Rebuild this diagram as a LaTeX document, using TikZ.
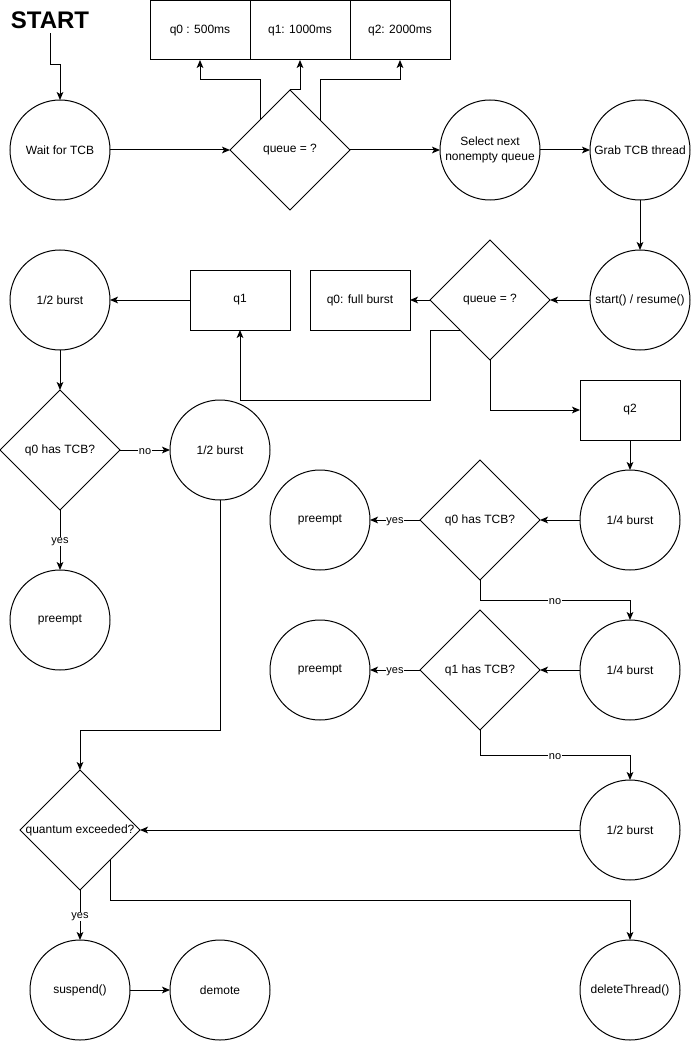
\documentclass[tikz,border=0pt]{standalone}
\usepackage{fontspec}
\setmainfont{Liberation Sans}
\usetikzlibrary{shapes.geometric,arrows.meta}
\begin{document}
\begin{tikzpicture}[x=0.75pt,y=-0.75pt,
  every node/.style={font=\fontsize{9pt}{11pt}\selectfont},
  line/.style={line width=0.75pt},
  arr/.style={line, -{Stealth[length=6pt,width=5pt,inset=1.5pt]}},
  circ/.style={circle, draw, line width=0.75pt, minimum size=75pt, inner sep=0pt, outer sep=0pt, align=center},
  dia/.style={diamond, draw, line width=0.75pt, minimum width=90pt, minimum height=90pt, inner sep=0pt, outer sep=0pt},
  box/.style={rectangle, draw, line width=0.75pt, minimum width=75pt, minimum height=45pt, inner sep=0pt, outer sep=0pt},
  topbox/.style={box, minimum height=44.25pt},
  lbl/.style={fill=white, inner sep=0.5pt, yshift=-1pt, font=\fontsize{8.25pt}{10pt}\selectfont}]
\useasboundingbox (0,0) rectangle (691,1041);

% top row
\node (start) at (50,20) {\fontsize{18pt}{20pt}\selectfont\bfseries START};
\node[circ] (wait) at (60,150) {Wait for TCB};
\node[dia] (qd1) at (290,150) {\makebox[0pt]{queue = ?}};
\node[topbox] (tq0) at (200,30.5) {q0 : 500ms};
\node[topbox] (tq1) at (300,30.5) {q1: 1000ms};
\node[topbox] (tq2) at (400,30.5) {q2: 2000ms};
\node[circ] (sel) at (490,150) {Select next\\nonempty queue};
\node[circ] (grab) at (640,150) {Grab TCB thread};

% second row
\node[circ] (res) at (640,300) {start() / resume()};
\node[dia] (qd2) at (490,300) {\makebox[0pt]{queue = ?}};
\node[box] (full) at (360,300) {q0: full burst};
\node[box] (bq1) at (240,300) {q1};
\node[box] (bq2) at (630,410) {q2};
\node[circ] (halfA) at (60,300) {1/2 burst};

% q1 branch
\node[dia] (q0a) at (60,450) {\makebox[0pt]{q0 has TCB?}};
\node[circ] (halfB) at (220,450) {1/2 burst};
\node[circ] (preA) at (60,620) {preempt};

% q2 branch
\node[circ] (quarA) at (630,520) {1/4 burst};
\node[dia] (q0b) at (480,520) {\makebox[0pt]{q0 has TCB?}};
\node[circ] (preB) at (320,520) {preempt};
\node[circ] (quarB) at (630,670) {1/4 burst};
\node[dia] (q1b) at (480,670) {\makebox[0pt]{q1 has TCB?}};
\node[circ] (preC) at (320,670) {preempt};
\node[circ] (halfC) at (630,830) {1/2 burst};

% bottom
\node[dia] (qex) at (80,830) {\makebox[0pt]{quantum exceeded?}};
\node[circ] (susp) at (80,990) {suspend()};
\node[circ] (dem) at (220,990) {demote};
\node[circ] (del) at (630,990) {deleteThread()};

% connectors
\draw[arr] (start.south) -- (50,65) -- (60,65) -- (wait.north);
\draw[arr] (wait.east) -- (qd1.west);
\draw[arr] (qd1.north west) -- (260,80) -| (tq0.south);
\draw[arr] (qd1.north) -- (300,90) -- (tq1.south);
\draw[arr] (qd1.north east) -- (320,80) -| (tq2.south);
\draw[arr] (qd1.east) -- (sel.west);
\draw[arr] (sel.east) -- (grab.west);
\draw[arr] (grab.south) -- (res.north);
\draw[arr] (res.west) -- (qd2.east);
\draw[arr] (qd2.west) -- (full.east);
\draw[arr] (qd2.south west) -- (430,330) -- (430,400) -| (bq1.south);
\draw[arr] (qd2.south) |- (bq2.west);
\draw[arr] (bq1.west) -- (halfA.east);
\draw[arr] (halfA.south) -- (q0a.north);
\draw[arr] (q0a.east) -- node[lbl] {no} (halfB.west);
\draw[arr] (q0a.south) -- node[lbl] {yes} (preA.north);
\draw[arr] (halfB.south) -- (220,730) -- (80,730) -- (qex.north);
\draw[arr] (bq2.south) -- (quarA.north);
\draw[arr] (quarA.west) -- (q0b.east);
\draw[arr] (q0b.west) -- node[lbl] {yes} (preB.east);
\draw[arr] (q0b.south) -- (480,600) -- node[lbl] {no} (630,600) -- (quarB.north);
\draw[arr] (quarB.west) -- (q1b.east);
\draw[arr] (q1b.west) -- node[lbl] {yes} (preC.east);
\draw[arr] (q1b.south) -- (480,755) -- node[lbl] {no} (630,755) -- (halfC.north);
\draw[arr] (halfC.west) -- (qex.east);
\draw[arr] (qex.south) -- node[lbl] {yes} (susp.north);
\draw[arr] (qex.south east) -- (110,900) -| (del.north);
\draw[arr] (susp.east) -- (dem.west);
\end{tikzpicture}
\end{document}
